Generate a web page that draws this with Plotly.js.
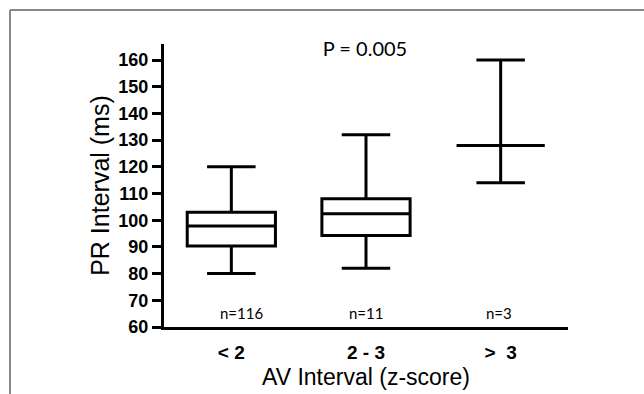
<!DOCTYPE html>
<html>
<head>
<meta charset="utf-8">
<script src="https://cdn.plot.ly/plotly-3.0.1.min.js"></script>
<style>html,body{margin:0;padding:0;background:#fff;}#chart{width:644px;height:394px;}</style>
</head>
<body>
<div id="chart"></div>
<script>
// Data
const categories = ['< 2', '2 - 3', '>\u00a0\u00a03'];
const lowerWhisker = [80, 82, 114];
const q1 = [90.3, 94.3, 128];
const median = [97.8, 102.4, 128];
const q3 = [103, 108, 128];
const upperWhisker = [120, 132, 160];
const nLabels = ['n=116', 'n=11', 'n=3'];
const yTickVals = [60, 70, 80, 90, 100, 110, 120, 130, 140, 150, 160];
const pValueText = 'P = 0.005';

const trace = {
  type: 'box',
  x: categories,
  q1: q1,
  median: median,
  q3: q3,
  lowerfence: lowerWhisker,
  upperfence: upperWhisker,
  boxpoints: false,
  width: 0.655,
  whiskerwidth: 0.55,
  fillcolor: 'rgba(255,255,255,0)',
  line: {color: '#000', width: 3},
  hoverinfo: 'skip',
  showlegend: false
};

const annotations = nLabels.map((t, i) => ({
  x: categories[i], y: 65.3, xref: 'x', yref: 'y',
  text: t, showarrow: false,
  font: {family: 'Lato, Open Sans, sans-serif', size: 15, color: '#000'},
  xshift: [10, 0, -2][i]
}));

const layout = {
  width: 644, height: 394,
  margin: {l: 164, r: 76, t: 44, b: 67, pad: 0},
  paper_bgcolor: '#fff', plot_bgcolor: '#fff',
  title: {
    text: pValueText,
    x: (365 - 164) / 404, xref: 'paper', xanchor: 'center',
    y: (327 - 49) / 283, yref: 'paper', yanchor: 'middle',
    font: {family: 'Lato, Open Sans, sans-serif', size: 20, color: '#000'}
  },
  xaxis: {
    type: 'category',
    range: [-0.5, 2.5],
    showline: true, linewidth: 3, linecolor: '#000',
    ticks: '', showgrid: false, zeroline: false,
    tickfont: {family: 'Liberation Sans, Arial, sans-serif', size: 19, color: '#000', weight: 'bold'},
    ticklabelstandoff: 6,
    title: {
      text: 'AV Interval (z-score)',
      font: {family: 'Liberation Sans, Arial, sans-serif', size: 23, color: '#000'},
      standoff: 8
    }
  },
  yaxis: {
    range: [60, 166],
    tickvals: yTickVals,
    showline: true, linewidth: 3, linecolor: '#000',
    ticks: 'outside', ticklen: 9, tickwidth: 3, tickcolor: '#000',
    showgrid: false, zeroline: false,
    tickfont: {family: 'Liberation Sans, Arial, sans-serif', size: 18, color: '#000', weight: 'bold'},
    title: {
      text: 'PR Interval (ms)',
      font: {family: 'Liberation Sans, Arial, sans-serif', size: 25, color: '#000'},
      standoff: 2
    }
  },
  annotations: annotations,
  shapes: [
    {type: 'line', xref: 'paper', yref: 'paper',
     x0: (10 - 164) / 404, x1: (660 - 164) / 404,
     y0: (327 - 10) / 283, y1: (327 - 10) / 283,
     line: {color: '#888', width: 2}, layer: 'below'},
    {type: 'line', xref: 'paper', yref: 'paper',
     x0: (10 - 164) / 404, x1: (10 - 164) / 404,
     y0: (327 - 10) / 283, y1: (327 - 410) / 283,
     line: {color: '#888', width: 2}, layer: 'below'}
  ]
};

Plotly.newPlot('chart', [trace], layout, {displayModeBar: false, staticPlot: true});
</script>
</body>
</html>
